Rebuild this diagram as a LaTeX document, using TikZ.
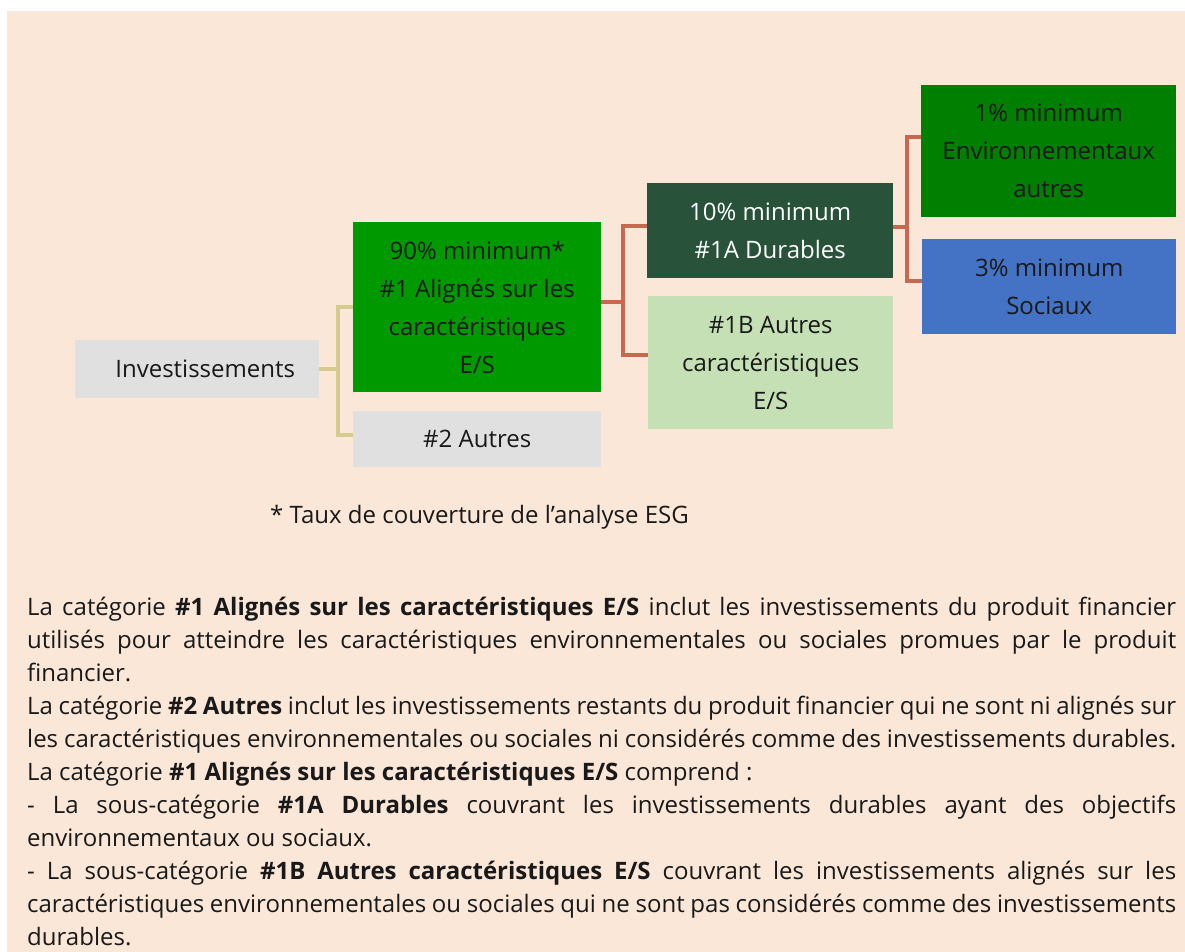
\documentclass[tikz,border=0pt]{standalone}
\usepackage{fontspec}
\setmainfont{Open Sans}
\setlength{\parindent}{0pt}

\definecolor{peach}{HTML}{FAE7D7}
\definecolor{grayc}{HTML}{E0E0E0}
\definecolor{esc}{HTML}{009A00}
\definecolor{durc}{HTML}{28533A}
\definecolor{autbc}{HTML}{C5E0B4}
\definecolor{envc}{HTML}{007F00}
\definecolor{socc}{HTML}{4472C4}
\definecolor{tanc}{HTML}{D6CB8E}
\definecolor{orc}{HTML}{C96850}

\begin{document}
\begin{tikzpicture}[x=1pt, y=-1pt,
    box/.style={rectangle, inner sep=0pt, anchor=north west, align=center,
                font=\fontsize{24}{38}\selectfont, text=black!90},
    tanline/.style={draw=tanc, line width=4pt},
    orline/.style={draw=orc, line width=3.6pt}]
    \useasboundingbox (0,0) rectangle (1185,952);
    \fill[peach] (7,11) rectangle (1185,952);

    % boxes
    \node[box, fill=grayc, minimum width=244pt, minimum height=58pt] (inv) at (75,340) {\hspace*{16pt}Investissements};
    \node[box, fill=esc, minimum width=248pt, minimum height=170pt] (es) at (353,222) {90\% minimum*\\\#1 Alignés sur les\\caractéristiques\\E/S};
    \node[box, fill=grayc, minimum width=248pt, minimum height=56pt] (autres) at (353,411) {\#2 Autres};
    \node[box, fill=durc, text=white, minimum width=246pt, minimum height=95pt] (dur) at (647,183) {10\% minimum\\\#1A Durables};
    \node[box, fill=autbc, minimum width=245pt, minimum height=133pt] (autb) at (648,296) {\#1B Autres\\caractéristiques\\E/S};
    \node[box, fill=envc, minimum width=255pt, minimum height=132pt] (env) at (921,85) {1\% minimum\\Environnementaux\\autres};
    \node[box, fill=socc, minimum width=254pt, minimum height=95pt] (soc) at (922,239) {3\% minimum\\Sociaux};

    % connectors
    \draw[tanline] (es.west) -- ++(-15,0) coordinate (tj) |- ([yshift=4pt]autres.west);
    \draw[tanline] (inv.east) -- (inv.east -| tj);
    \draw[orline] ([yshift=5pt]dur.west) -- ++(-24,0) coordinate (oj) |- ([yshift=8pt]autb.west);
    \draw[orline] ([yshift=5pt]es.east) -- ([yshift=5pt]es.east -| oj);
    \draw[orline] ([yshift=14pt]env.west) -- ++(-14,0) coordinate (oj2) |- ([yshift=6pt]soc.west);
    \draw[orline] ([yshift=4pt]dur.east) -- ([yshift=4pt]dur.east -| oj2);

    \node[anchor=base west, inner sep=0pt, font=\fontsize{24}{33}\selectfont, text=black!90] (note) at (270,523) {* Taux de couverture de l’analyse ESG};

    % explanation
    \node[anchor=north west, inner sep=0pt, text width=1149pt, align=justify,
          font=\fontsize{24}{33}\selectfont, text=black!90] (expl) at (27,597) {%
La catégorie \textbf{\#1 Alignés sur les caractéristiques E/S} inclut les investissements du produit financier\linebreak
utilisés pour atteindre les caractéristiques environnementales ou sociales promues par le produit\linebreak
financier.\par
La catégorie \textbf{\#2 Autres} inclut les investissements restants du produit financier qui ne sont ni alignés sur\linebreak
les caractéristiques environnementales ou sociales ni considérés comme des investissements durables.\par
La catégorie \textbf{\#1 Alignés sur les caractéristiques E/S} comprend :\par
- La sous-catégorie \textbf{\#1A Durables} couvrant les investissements durables ayant des objectifs\linebreak
environnementaux ou sociaux.\par
- La sous-catégorie \textbf{\#1B Autres caractéristiques E/S} couvrant les investissements alignés sur les\linebreak
caractéristiques environnementales ou sociales qui ne sont pas considérés comme des investissements\linebreak
durables.};
\end{tikzpicture}
\end{document}
